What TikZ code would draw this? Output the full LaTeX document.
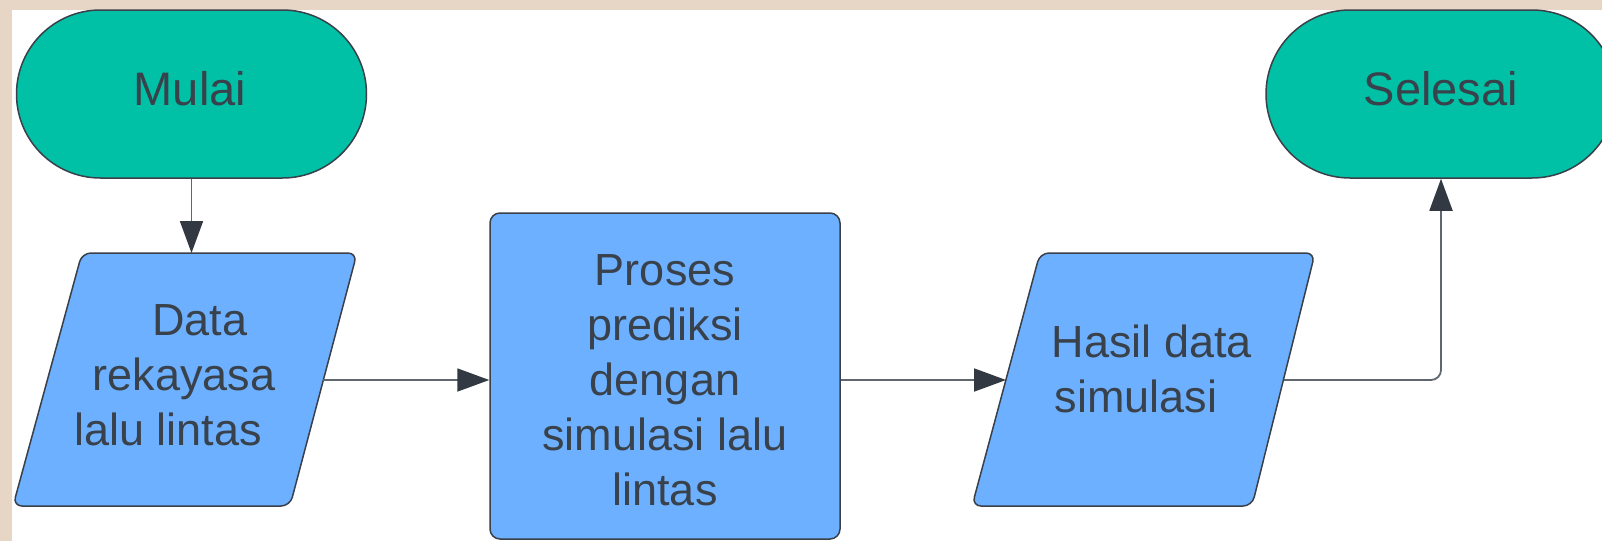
\documentclass[tikz,border=0pt]{standalone}
\usepackage{fontspec}
\setmainfont{Liberation Sans}
\usetikzlibrary{arrows.meta}

\definecolor{frame}{HTML}{E7D5C5}
\definecolor{teal}{HTML}{00C1A6}
\definecolor{sky}{HTML}{6DB0FF}
\definecolor{edge}{HTML}{3A4049}
\definecolor{ink}{HTML}{39414B}
\definecolor{wire}{HTML}{60666E}
\definecolor{tipc}{HTML}{323942}

\tikzset{
  terminal/.style={draw=edge, line width=1.5pt, fill=teal, rectangle,
    rounded corners=84pt, minimum width=350pt, minimum height=168pt, inner sep=0pt},
  iopath/.style={draw=edge, line width=1.5pt, fill=sky, rounded corners=9pt},
  procbox/.style={draw=edge, line width=1.5pt, fill=sky, rectangle,
    rounded corners=10pt, minimum width=350pt, minimum height=326pt, inner sep=0pt},
  label/.style={text=ink, anchor=base, inner sep=0pt,
    font=\fontsize{45}{55}\selectfont},
  biglabel/.style={text=ink, anchor=base, inner sep=0pt,
    font=\fontsize{47}{55}\selectfont},
  flow/.style={draw=wire, line width=1.8pt,
    -{Triangle[length=32pt,width=23pt,color=tipc]}},
}

\begin{document}
\begin{tikzpicture}[x=1pt,y=-1pt]
  \useasboundingbox (0,0) rectangle (1602,541);
  \clip (0,0) rectangle (1602,541);

  % page background with the beige border strips
  \fill[white] (0,0) rectangle (1602,541);
  \fill[frame] (0,0) rectangle (1602,10);
  \fill[frame] (0,0) rectangle (12,541);

  % start and end terminals
  \node[terminal] (mulai) at (191.5,94) {};
  \node[terminal] (selesai) at (1441,94) {};

  % input/output parallelograms, with named points on their borders
  \draw[iopath] (82,253) -- (357,253) -- (290,506) -- (13,506) -- cycle;
  \coordinate (data-n) at (185,253);
  \coordinate (data-e) at (323,380);

  \draw[iopath] (1040,253) -- (1315,253) -- (1252,506) -- (972,506) -- cycle;
  \coordinate (hasil-w) at (1006,380);
  \coordinate (hasil-e) at (1284,380);

  % process box
  \node[procbox] (proses) at (665,376) {};

  % texts
  \node[biglabel] (tMulai) at (190,105) {Mulai};
  \node[biglabel] (tSelesai) at (1441,105) {Selesai};

  \node[label] (tData1) at (200,335) {Data};
  \node[label] (tData2) at (184,390) {rekayasa};
  \node[label] (tData3) at (168,445) {lalu lintas};

  \node[label] (tProses1) at (665,285) {Proses};
  \node[label] (tProses2) at (665,340) {prediksi};
  \node[label] (tProses3) at (665,395) {dengan};
  \node[label] (tProses4) at (665,450) {simulasi lalu};
  \node[label] (tProses5) at (665,505) {lintas};

  \node[label] (tHasil1) at (1152,357) {Hasil data};
  \node[label] (tHasil2) at (1136,412) {simulasi};

  % connectors
  \draw[flow] (mulai.south) -- (mulai.south |- data-n);
  \draw[flow] (data-e) -- (data-e -| proses.west);
  \draw[flow] (proses.east |- hasil-w) -- (hasil-w);
  \draw[flow, rounded corners=10pt] (hasil-e) -| (selesai.south);
\end{tikzpicture}
\end{document}
